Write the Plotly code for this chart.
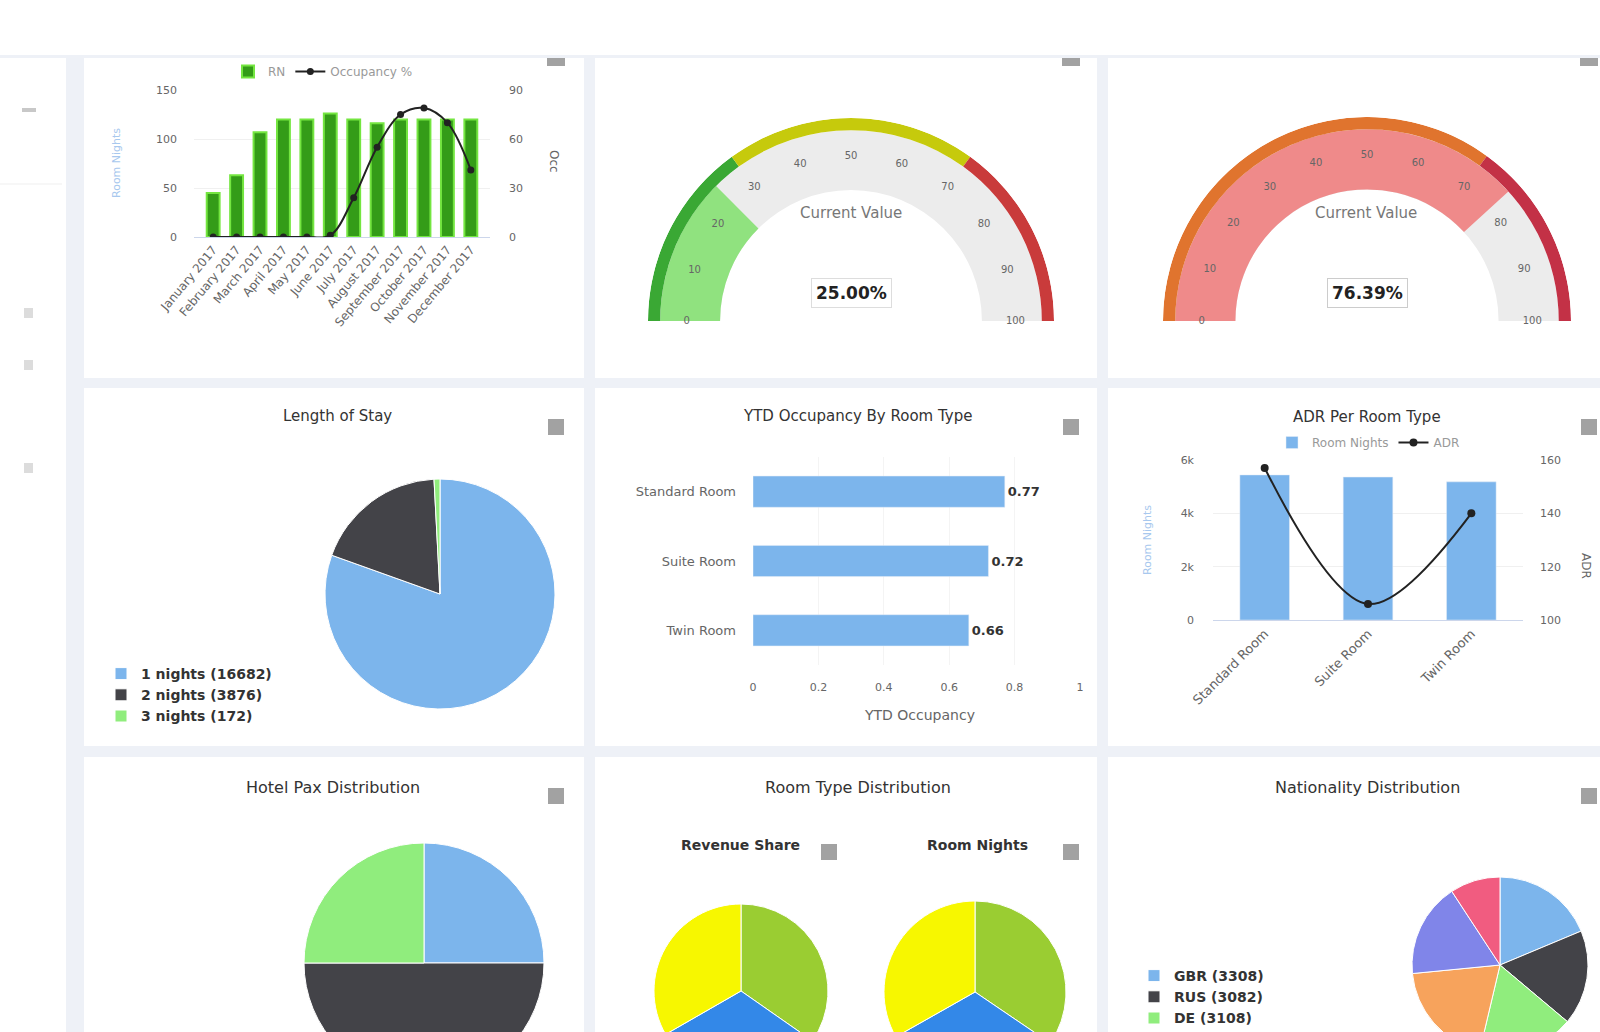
import plotly.graph_objects as go

W, H = 1600, 1160
FONT = "DejaVu Sans, Verdana, sans-serif"


def fx(x):
    return x / W


def fy(y):
    return 1 - y / H


# ---------------- data ----------------
month_labels = ["January 2017", "February 2017", "March 2017", "April 2017", "May 2017", "June 2017",
                "July 2017", "August 2017", "September 2017", "October 2017", "November 2017", "December 2017"]
month_room_nights = [45, 63, 107, 120, 120, 126, 120, 116, 120, 120, 120, 120]
month_occupancy = [0, 0, 0, 0, 0, 1, 24, 55, 75, 79, 70, 41]

gauge_ticks = [0, 10, 20, 30, 40, 50, 60, 70, 80, 90, 100]
g1_value = 25.00
g1_bands = [0, 30, 70, 100]
g1_band_colors = ["#3aa834", "#c6ca0c", "#c93b3b"]
g2_value = 76.39
g2_bands = [0, 70, 100]
g2_band_colors = ["#e0742e", "#c33146"]

los_labels = ["1 nights", "2 nights", "3 nights"]
los_counts = [16682, 3876, 172]

room_types = ["Standard Room", "Suite Room", "Twin Room"]
ytd_occupancy = [0.77, 0.72, 0.66]
room_type_nights = [5440, 5360, 5180]
room_type_adr = [157, 106, 140]

pax_labels = ["1 Pax", "2 Pax", "3 Pax"]
pax_values = [25, 50, 25]

rt_revenue_share = [34.7, 32.0, 33.3]
rt_room_nights = [34.5, 32.3, 33.2]

nat_labels = ["GBR", "RUS", "DE", "FRA", "ESP", "ITA"]
nat_counts = [3308, 3082, 3108, 3496, 3065, 1632]

HC = ["#7cb5ec", "#434348", "#90ed7d", "#f7a35c", "#8085e9", "#f15c80"]
RT_COLORS = ["#9acd32", "#3388e8", "#f7f700"]

fig = go.Figure()

# ---------- panel 1: monthly combo ----------
fig.add_trace(go.Bar(x=month_labels, y=month_room_nights, name="RN", width=0.55,
                     marker=dict(color="#349c18", line=dict(color="#74e640", width=2)),
                     xaxis="x", yaxis="y", legend="legend"))
fig.add_trace(go.Scatter(x=month_labels, y=month_occupancy, name="Occupancy %", mode="lines+markers",
                         line=dict(color="#222222", width=2, shape="spline"),
                         marker=dict(size=7, color="#222222"), xaxis="x", yaxis="y2", legend="legend"))

# ---------- gauges ----------
G_IN, G_FILL, G_OUT = 0.645, 0.295, 0.06


def gauge_traces(polar, bands, colors, value, fill_color):
    tr = []
    tr.append(go.Barpolar(subplot=polar, theta=[gauge_ticks[-1] * 0.9], width=[gauge_ticks[-1] * 1.8],
                          base=[G_IN], r=[G_FILL], marker=dict(color="#ececec", line=dict(width=0)),
                          hoverinfo="skip", showlegend=False))
    tr.append(go.Barpolar(subplot=polar, theta=[value * 0.9], width=[value * 1.8],
                          base=[G_IN], r=[G_FILL], marker=dict(color=fill_color, line=dict(width=0)),
                          hoverinfo="skip", showlegend=False))
    th = [(a + b) / 2 * 1.8 for a, b in zip(bands[:-1], bands[1:])]
    wd = [(b - a) * 1.8 for a, b in zip(bands[:-1], bands[1:])]
    n = len(th)
    tr.append(go.Barpolar(subplot=polar, theta=th, width=wd, base=[1 - G_OUT] * n, r=[G_OUT] * n,
                          marker=dict(color=colors, line=dict(width=0)), hoverinfo="skip", showlegend=False))
    tr.append(go.Scatterpolar(subplot=polar, r=[0.81] * len(gauge_ticks), theta=[t * 1.8 for t in gauge_ticks],
                              mode="text", text=[str(t) for t in gauge_ticks],
                              textfont=dict(size=10, color="#666666", family=FONT),
                              cliponaxis=False, hoverinfo="skip", showlegend=False))
    return tr


for t in gauge_traces("polar", g1_bands, g1_band_colors, g1_value, "#90e27f"):
    fig.add_trace(t)
for t in gauge_traces("polar2", g2_bands, g2_band_colors, g2_value, "#ef8a8a"):
    fig.add_trace(t)

# ---------- length of stay pie ----------
fig.add_trace(go.Pie(labels=[f"{l} ({c})" for l, c in zip(los_labels, los_counts)], values=los_counts,
                     domain=dict(x=[fx(325), fx(555)], y=[fy(709), fy(479)]),
                     direction="clockwise", sort=False, rotation=0, textinfo="none",
                     marker=dict(colors=HC[:3], line=dict(color="white", width=1)), legend="legend3"))

# ---------- YTD occupancy bars ----------
fig.add_trace(go.Bar(y=room_types, x=ytd_occupancy, orientation="h", width=0.45,
                     marker=dict(color="#7cb5ec"), texttemplate="<b>%{x:.2f}</b>", textposition="outside",
                     textfont=dict(size=13, color="#333333", family=FONT), cliponaxis=False,
                     xaxis="x3", yaxis="y3", showlegend=False))

# ---------- ADR per room type ----------
fig.add_trace(go.Bar(x=room_types, y=room_type_nights, name="Room Nights", width=0.48,
                     marker=dict(color="#7cb5ec"), xaxis="x4", yaxis="y4", legend="legend2"))
fig.add_trace(go.Scatter(x=room_types, y=room_type_adr, name="ADR", mode="lines+markers",
                         line=dict(color="#222222", width=2, shape="spline"),
                         marker=dict(size=8, color="#222222"), xaxis="x4", yaxis="y5", legend="legend2"))

# ---------- bottom pies ----------
fig.add_trace(go.Pie(labels=pax_labels, values=pax_values,
                     domain=dict(x=[fx(304), fx(544)], y=[fy(1083), fy(843)]),
                     direction="clockwise", sort=False, textinfo="none", showlegend=False,
                     marker=dict(colors=HC[:3], line=dict(color="white", width=1))))
fig.add_trace(go.Pie(labels=room_types, values=rt_revenue_share,
                     domain=dict(x=[fx(654), fx(828)], y=[fy(1078), fy(904)]),
                     direction="clockwise", sort=False, textinfo="none", showlegend=False,
                     marker=dict(colors=RT_COLORS, line=dict(color="white", width=1))))
fig.add_trace(go.Pie(labels=room_types, values=rt_room_nights,
                     domain=dict(x=[fx(884), fx(1066)], y=[fy(1083), fy(901)]),
                     direction="clockwise", sort=False, textinfo="none", showlegend=False,
                     marker=dict(colors=RT_COLORS, line=dict(color="white", width=1))))
fig.add_trace(go.Pie(labels=[f"{l} ({c})" for l, c in zip(nat_labels, nat_counts)], values=nat_counts,
                     domain=dict(x=[fx(1412), fx(1588)], y=[fy(1053), fy(877)]),
                     direction="clockwise", sort=False, textinfo="none",
                     marker=dict(colors=HC[:6], line=dict(color="white", width=1)), legend="legend4"))

# ---------- shapes ----------
shapes = []
panels = [(84, 58, 584, 378), (595, 58, 1097, 378), (1108, 58, 1600, 378),
          (84, 388, 584, 746), (595, 388, 1097, 746), (1108, 388, 1600, 746),
          (84, 757, 584, H), (595, 757, 1097, H), (1108, 757, 1600, H)]
shapes.append(dict(type="rect", xref="paper", yref="paper", x0=0, x1=1, y0=fy(55), y1=1,
                   fillcolor="white", line=dict(width=0), layer="below"))
shapes.append(dict(type="rect", xref="paper", yref="paper", x0=0, x1=fx(66), y0=0, y1=fy(58),
                   fillcolor="white", line=dict(width=0), layer="below"))
for x0, y0, x1, y1 in panels:
    shapes.append(dict(type="rect", xref="paper", yref="paper", x0=fx(x0), x1=fx(x1), y0=fy(y1), y1=fy(y0),
                       fillcolor="white", line=dict(width=0), layer="below"))
# sidebar decorations
shapes.append(dict(type="line", xref="paper", yref="paper", x0=0, x1=fx(62), y0=fy(184), y1=fy(184),
                   line=dict(color="#efefef", width=1), layer="below"))
shapes.append(dict(type="rect", xref="paper", yref="paper", x0=fx(22), x1=fx(36), y0=fy(112), y1=fy(108),
                   fillcolor="#c8c8c8", line=dict(width=0)))
for yy in (313, 365, 468):
    shapes.append(dict(type="rect", xref="paper", yref="paper", x0=fx(24), x1=fx(33), y0=fy(yy + 5), y1=fy(yy - 5),
                       fillcolor="#dcdcdc", line=dict(width=0)))
# menu icons
icons = [(556, 62, 9, 4), (1071, 62, 9, 4), (1589, 62, 9, 4),
         (556, 427, 8, 8), (1071, 427, 8, 8), (1589, 427, 8, 8),
         (556, 796, 8, 8), (829, 852, 8, 8), (1071, 852, 8, 8), (1589, 796, 8, 8)]
for cx, cy, hw, hh in icons:
    shapes.append(dict(type="rect", xref="paper", yref="paper", x0=fx(cx - hw), x1=fx(cx + hw),
                       y0=fy(cy + hh), y1=fy(cy - hh), fillcolor="#a2a2a2", line=dict(width=0)))


# ---------- annotations ----------
def ann(x, y, text, size=12, color="#333333", bold=False, angle=0, **kw):
    d = dict(x=fx(x), y=fy(y), xref="paper", yref="paper", text=(f"<b>{text}</b>" if bold else text),
             showarrow=False, font=dict(size=size, color=color, family=FONT),
             xanchor="center", yanchor="middle", textangle=angle)
    d.update(kw)
    return d


annotations = [
    ann(117, 163, "Room Nights", 11, "#a8c8ee", angle=-90),
    ann(554, 161, "Occ", 12, "#666666", angle=90),
    ann(851, 213, "Current Value", 15, "#777777"),
    ann(851, 293, f"{g1_value:.2f}%", 17, "#222222", bold=True, bordercolor="#dddddd", borderwidth=1, borderpad=4),
    ann(1366, 213, "Current Value", 15, "#777777"),
    ann(1367, 293, f"{g2_value:.2f}%", 17, "#222222", bold=True, bordercolor="#cccccc", borderwidth=1, borderpad=4),
    ann(337, 416, "Length of Stay", 15, "#333333"),
    ann(857, 416, "YTD Occupancy By Room Type", 15, "#333333"),
    ann(920, 715, "YTD Occupancy", 14, "#666666"),
    ann(1367, 417, "ADR Per Room Type", 15, "#333333"),
    ann(1148, 540, "Room Nights", 11, "#a8c8ee", angle=-90),
    ann(1586, 566, "ADR", 12, "#666666", angle=90),
    ann(333, 787, "Hotel Pax Distribution", 16, "#333333"),
    ann(858, 787, "Room Type Distribution", 16, "#333333"),
    ann(740, 845, "Revenue Share", 14, "#333333", bold=True),
    ann(977, 845, "Room Nights", 14, "#333333", bold=True),
    ann(1367, 787, "Nationality Distribution", 16, "#333333"),
]

axis_font = dict(size=11, color="#666666", family=FONT)
polar_common = dict(sector=[0, 180], hole=0, bgcolor="rgba(0,0,0,0)",
                    radialaxis=dict(visible=False, range=[0, 1]),
                    angularaxis=dict(visible=False, rotation=180, direction="clockwise", thetaunit="degrees"))

legend_common = dict(bgcolor="rgba(0,0,0,0)", font=dict(size=14, color="#333333", family=FONT, weight="bold"))

fig.update_layout(
    width=W, height=H, margin=dict(l=0, r=0, t=0, b=0),
    paper_bgcolor="#eef1f7", plot_bgcolor="white",
    font=dict(family=FONT, color="#333333"),
    showlegend=True,
    shapes=shapes, annotations=annotations,
    xaxis=dict(domain=[fx(194), fx(490)], anchor="y", tickangle=-50, tickfont=dict(size=12, color="#666666", family=FONT),
               showline=True, linecolor="#ccd6eb", showgrid=False, automargin=False, fixedrange=True),
    yaxis=dict(domain=[fy(237), fy(90)], anchor="x", range=[0, 150], dtick=50, tickfont=axis_font,
               gridcolor="#f0f0f0", zeroline=False, automargin=False, ticklabelstandoff=16),
    yaxis2=dict(overlaying="y", side="right", anchor="x", range=[0, 90], dtick=30, tickfont=axis_font,
                showgrid=False, zeroline=False, automargin=False, ticklabelstandoff=18),
    xaxis3=dict(domain=[fx(753), fx(1080)], anchor="y3", range=[0, 1], dtick=0.2, tickfont=axis_font,
                showgrid=True, gridcolor="#f4f4f4", zeroline=False, automargin=False, ticklabelstandoff=14),
    yaxis3=dict(domain=[fy(665), fy(457)], anchor="x3", autorange="reversed",
                tickfont=dict(size=13, color="#666666", family=FONT), showgrid=False,
                automargin=False, ticklabelstandoff=16),
    xaxis4=dict(domain=[fx(1213), fx(1523)], anchor="y4", tickangle=-45,
                tickfont=dict(size=13, color="#666666", family=FONT), showline=True, linecolor="#ccd6eb",
                automargin=False),
    yaxis4=dict(domain=[fy(620), fy(460)], anchor="x4", range=[0, 6000], dtick=2000, tickformat="~s",
                tickfont=axis_font, gridcolor="#f0f0f0", zeroline=False, automargin=False, ticklabelstandoff=18),
    yaxis5=dict(overlaying="y4", side="right", anchor="x4", range=[100, 160], dtick=20, tickfont=axis_font,
                showgrid=False, zeroline=False, automargin=False, ticklabelstandoff=16),
    polar=dict(domain=dict(x=[fx(648), fx(1054)], y=[fy(321), fy(118)]), **polar_common),
    polar2=dict(domain=dict(x=[fx(1163), fx(1571)], y=[fy(321), fy(117)]), **polar_common),
    legend=dict(orientation="h", x=fx(228), y=fy(57), xanchor="left", yanchor="top",
                bgcolor="rgba(0,0,0,0)", font=dict(size=12, color="#999999", family=FONT)),
    legend2=dict(orientation="h", x=fx(1272), y=fy(428), xanchor="left", yanchor="top",
                 bgcolor="rgba(0,0,0,0)", font=dict(size=12, color="#999999", family=FONT)),
    legend3=dict(x=fx(101), y=fy(658), xanchor="left", yanchor="top", **legend_common),
    legend4=dict(x=fx(1134), y=fy(960), xanchor="left", yanchor="top", **legend_common),
)

fig.write_html("out.html", config={"displayModeBar": False},
               post_script="document.body.style.margin='0';document.body.style.overflow='hidden';document.documentElement.style.overflow='hidden';")
